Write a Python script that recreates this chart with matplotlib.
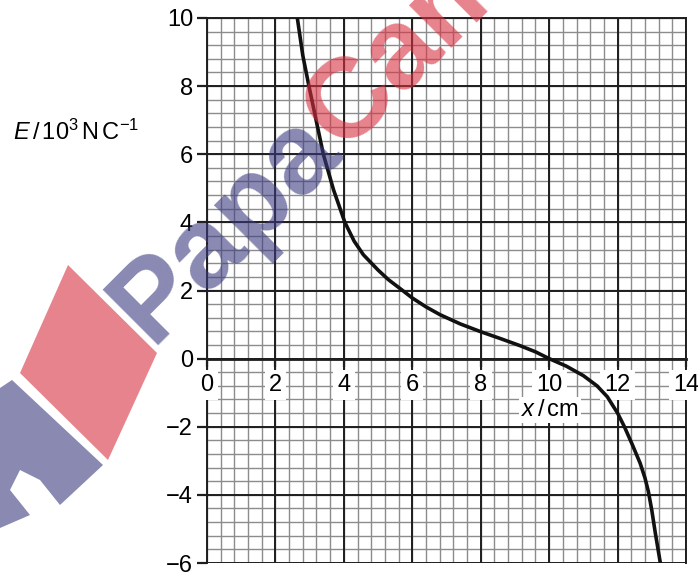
import numpy as np
import matplotlib
matplotlib.use("Agg")
import matplotlib.pyplot as plt
from matplotlib.patches import Polygon

plt.rcParams['font.family'] = ['Liberation Sans', 'DejaVu Sans']
plt.rcParams['mathtext.fontset'] = 'custom'
plt.rcParams['mathtext.rm'] = 'Liberation Sans'
plt.rcParams['mathtext.it'] = 'Liberation Sans:italic'
plt.rcParams['mathtext.bf'] = 'Liberation Sans:bold'

# ---- data ----
x_cm = [2.64, 2.80, 2.98, 3.20, 3.40, 3.70, 4.03, 4.30, 4.57, 5.00, 5.30, 5.64,
        6.00, 6.40, 6.81, 7.40, 8.00, 8.60, 9.15, 9.60, 10.00, 10.50, 11.00,
        11.40, 11.70, 12.00, 12.20, 12.42, 12.66, 12.80, 12.90, 13.00, 13.10,
        13.25]
E_kNC = [10.0, 8.9, 8.0, 6.95, 6.0, 4.95, 4.0, 3.45, 3.05, 2.60, 2.32, 2.06,
         1.78, 1.52, 1.29, 1.02, 0.79, 0.58, 0.38, 0.20, 0.0, -0.22, -0.50,
         -0.80, -1.12, -1.60, -2.0, -2.5, -3.07, -3.5, -3.9, -4.45, -5.1, -6.0]
x_major = [0, 2, 4, 6, 8, 10, 12, 14]
y_major = [-6, -4, -2, 0, 2, 4, 6, 8, 10]
x_minor = np.arange(0, 14.001, 0.4)
y_minor = np.arange(-6, 10.001, 0.4)

W, H = 698, 574
fig = plt.figure(figsize=(W / 100, H / 100), dpi=100)
ax = fig.add_axes([207 / W, (H - 563) / H, 479 / W, 545 / H])
ax.set_xlim(0, 14)
ax.set_ylim(-6, 10)
ax.set_axisbelow(False)

minor_c, major_c = '#8c8c8c', '#1e1e1e'
for v in x_minor:
    ax.axvline(v, color=minor_c, lw=1.0, zorder=1)
for v in y_minor:
    ax.axhline(v, color=minor_c, lw=1.0, zorder=1)
for v in x_major:
    ax.axvline(v, color=major_c, lw=1.4, zorder=1.2)
for v in y_major:
    ax.axhline(v, color=major_c, lw=1.4, zorder=1.2)

ax.plot(x_cm, E_kNC, color='#111111', lw=2.6, zorder=3,
        solid_joinstyle='round', solid_capstyle='butt')

for s in ['top', 'right', 'left']:
    ax.spines[s].set_color(major_c)
    ax.spines[s].set_linewidth(1.4)
ax.spines['bottom'].set_position(('data', 0))
ax.spines['bottom'].set_color(major_c)
ax.spines['bottom'].set_linewidth(2.0)

ax.set_xticks(x_major)
ax.set_yticks(y_major)
ax.set_xticklabels([str(v) for v in x_major])
ax.set_yticklabels([str(v).replace('-', '\u2212') for v in y_major])
ax.tick_params(axis='x', direction='out', length=6, width=1.6, pad=5,
               labelsize=17, color=major_c)
ax.tick_params(axis='y', direction='out', length=7, width=1.6, pad=3,
               labelsize=17, color=major_c)
for lab in ax.get_xticklabels():
    lab.set_bbox(dict(facecolor='white', edgecolor='none', pad=3))

ax.text(10.03, -1.51, r"$\mathit{x}\,/\,\mathrm{cm}$", fontsize=17,
        ha='center', va='center', zorder=2.6,
        bbox=dict(facecolor='white', edgecolor='none', pad=1.5))

fig.text(13 / W, 1 - 140 / H, r"$\mathit{E}\,/\,\mathrm{10^3\,N\,C^{-1}}$",
         fontsize=17, ha='left', va='baseline')

# ---- watermark overlay (pixel coordinates) ----
wm = fig.add_axes([0, 0, 1, 1], zorder=10)
wm.set_xlim(0, W)
wm.set_ylim(H, 0)
wm.axis('off')
blue, red = '#3a3a80', '#d83040'
wm.add_patch(Polygon([(68, 265), (157, 353), (108, 460), (20, 373)],
                     closed=True, facecolor=red, edgecolor='none', alpha=0.6))
wm.add_patch(Polygon([(0, 388), (12, 380), (103, 465), (60, 505), (40, 480),
                      (20, 470), (10, 490), (30, 515), (0, 528)],
                     closed=True, facecolor=blue, edgecolor='none', alpha=0.6))
x0, y0 = 150, 345
t1 = wm.text(x0, y0, "Papa", fontsize=82, fontweight='bold', color=blue,
             alpha=0.6, rotation=0, rotation_mode='anchor', ha='left',
             va='baseline')
r = fig.canvas.get_renderer()
w = t1.get_window_extent(r).width
t1.set_rotation(45)
c = np.cos(np.pi / 4)
wm.text(x0 + w * c, y0 - w * c, "Cam", fontsize=82, fontweight='bold',
        color=red, alpha=0.6, rotation=45, rotation_mode='anchor',
        ha='left', va='baseline')

fig.savefig("out.png", dpi=100)
